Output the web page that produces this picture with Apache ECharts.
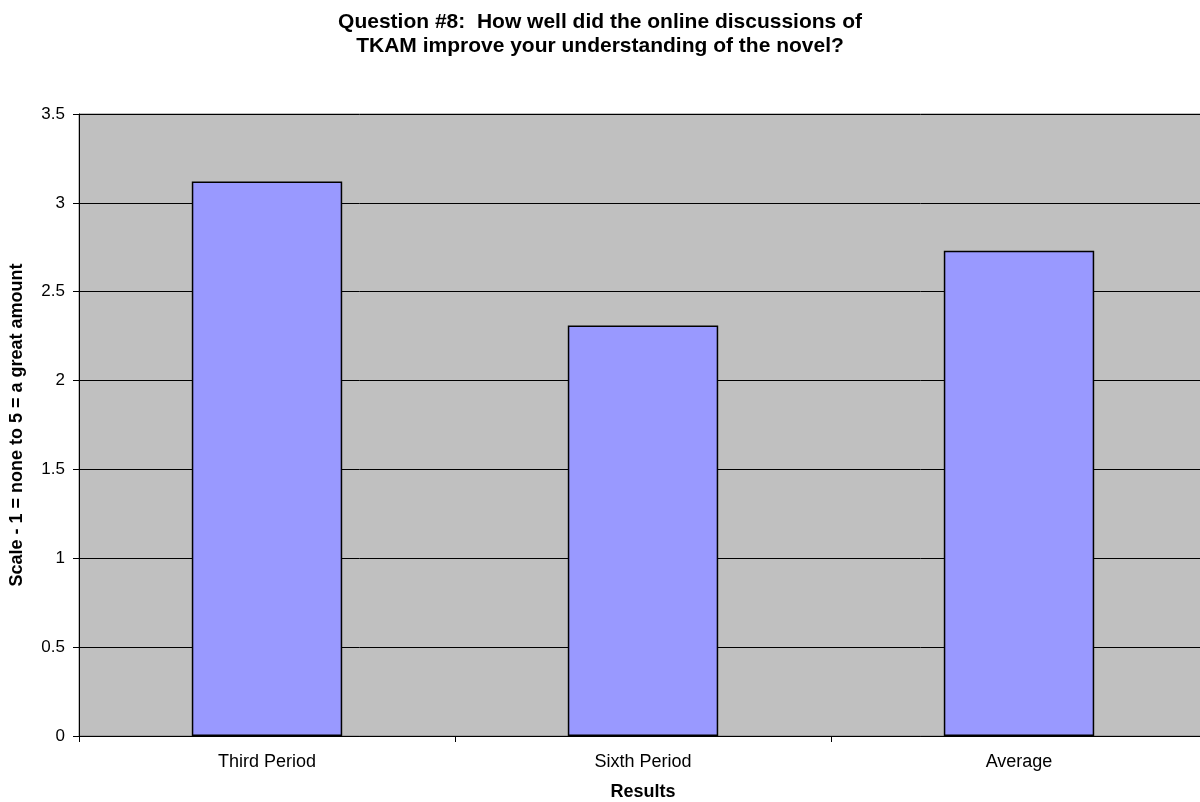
<!DOCTYPE html>
<html>
<head>
<meta charset="utf-8">
<script src="https://cdn.jsdelivr.net/npm/echarts@6/dist/echarts.min.js"></script>
<style>
  html, body { margin: 0; padding: 0; background: #fff; }
  #chart { width: 1200px; height: 802px; }
</style>
</head>
<body>
<div id="chart"></div>
<script>
// data
const categories = ['Third Period', 'Sixth Period', 'Average'];
const scores = [3.12, 2.31, 2.73];

const chart = echarts.init(document.getElementById('chart'));
const font = 'Liberation Sans, Arial, sans-serif';

chart.setOption({
    animation: false,
    title: {
        text: 'Question #8:  How well did the online discussions of\nTKAM improve your understanding of the novel?',
        left: 'center',
        top: 5,
        textStyle: {
            fontFamily: font,
            fontSize: 21,
            fontWeight: 'bold',
            color: '#000',
            lineHeight: 24
        }
    },
    // plot runs a bit past the right edge, like the original
    grid: {
        left: 79,
        right: -7,
        top: 114,
        bottom: 66,
        outerBoundsMode: 'none',
        show: true,
        backgroundColor: '#c0c0c0',
        borderColor: '#808080',
        borderWidth: 1
    },
    xAxis: {
        type: 'category',
        data: categories,
        name: 'Results',
        nameLocation: 'middle',
        nameGap: 47,
        nameTextStyle: { fontFamily: font, fontSize: 18, fontWeight: 'bold', color: '#000' },
        axisLine: { lineStyle: { color: '#000', width: 1 } },
        axisTick: { show: true, length: 6, lineStyle: { color: '#000' } },
        axisLabel: { fontFamily: font, fontSize: 18, color: '#000', margin: 17 }
    },
    yAxis: {
        type: 'value',
        min: 0,
        max: 3.5,
        interval: 0.5,
        name: 'Scale - 1 = none to 5 = a great amount',
        nameLocation: 'middle',
        nameGap: 53,
        nameTextStyle: { fontFamily: font, fontSize: 18, fontWeight: 'bold', color: '#000' },
        axisLine: { show: true, lineStyle: { color: '#000', width: 1 } },
        axisTick: { show: true, length: 6, lineStyle: { color: '#000' } },
        axisLabel: { fontFamily: font, fontSize: 17, color: '#000', margin: 14 },
        splitLine: { show: true, lineStyle: { color: '#000', width: 1 } }
    },
    series: [{
        type: 'bar',
        data: scores,
        barWidth: '40%',
        itemStyle: {
            color: '#9999ff',
            borderColor: '#000',
            borderWidth: 1.5
        }
    }]
});
</script>
</body>
</html>
